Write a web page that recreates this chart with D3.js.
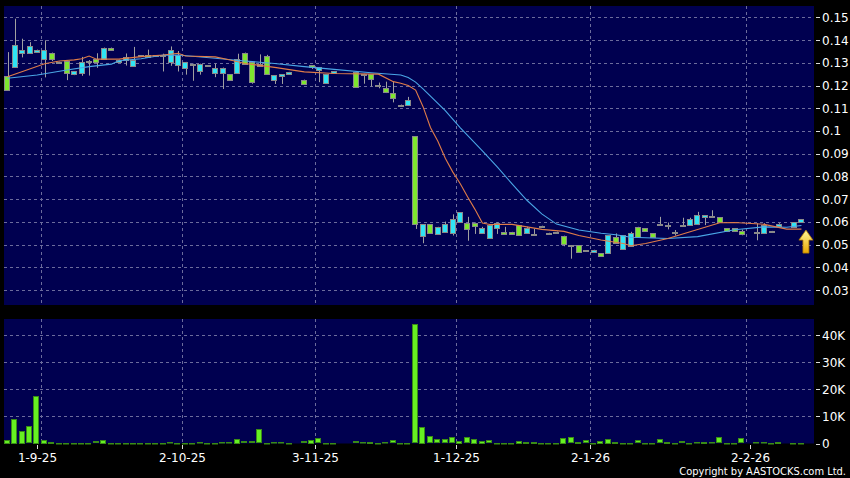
<!DOCTYPE html>
<html>
<head>
<meta charset="utf-8">
<script src="https://cdn.jsdelivr.net/npm/d3@7"></script>
<style>
  body { margin: 0; background: #000; }
  svg { display: block; }
  text { font-family: "DejaVu Sans", sans-serif; fill: #fff; }
</style>
</head>
<body>
<div id="chart"></div>
<script>
var width = 850;
var height = 478;

// daily bars, one entry per slot (null = no bar drawn)
var opens  = [0.118,0.1377,0.1358,0.1374,0.1358,0.1358,0.1318,0.1305,0.1257,0.1263,
              0.1304,0.131,0.1304,0.1367,0.1358,0.1314,0.1326,0.1314,0.1333,0.1329,
              0.1333,0.1333,0.1358,0.1333,0.1304,0.1296,0.1296,0.129,0.1279,0.1279,
              0.1224,0.1318,0.1296,0.1216,0.1296,0.125,0.1245,0.125,0.126,null,
              0.1209,0.1279,0.128,0.125,0.1264,null,null,0.1195,0.1252,0.1226,
              0.1201,0.1169,0.1147,0.1116,0.1138,0.059,0.059,0.0549,0.0578,0.059,
              0.0611,0.0642,0.0572,0.0582,0.0572,0.0586,0.0597,0.0549,0.0549,0.0542,
              0.0572,0.0545,0.0583,0.0552,0.0557,0.0502,0.0498,0.0468,0.0475,0.0477,
              0.0449,0.0542,0.0508,0.0542,0.0549,0.0535,0.056,0.0532,0.0585,0.0585,
              0.0557,0.0585,0.0611,0.0629,0.0629,0.0626,0.0598,0.056,0.056,0.0549,
              null,0.0555,0.0587,0.056,0.0591,null,0.0598,0.0611];
var highs  = [0.1347,0.1494,0.1406,0.1391,0.1358,0.1399,0.1345,0.1305,0.131,0.1263,
              0.1326,0.1312,0.1342,0.1367,0.1367,0.1314,0.1341,0.137,0.1333,0.1358,
              0.1333,0.134,0.1372,0.1352,0.1304,0.1296,0.1296,0.129,0.1296,0.1279,
              0.1249,0.134,0.1345,0.1304,0.1337,0.1335,0.1245,0.125,0.126,null,
              0.1226,0.1289,0.128,0.125,0.1264,null,null,0.126,0.1252,0.125,
              0.1213,0.1217,0.1217,0.1116,0.115,0.0977,0.059,0.059,0.0578,0.0601,
              0.0633,0.0642,0.0622,0.0597,0.0578,0.0586,0.0597,0.0578,0.0556,0.0586,
              0.0578,0.057,0.0583,0.0552,0.0557,0.0539,0.0498,0.0498,0.0475,0.0477,
              0.0461,0.0542,0.0549,0.0542,0.0556,0.0578,0.0572,0.0549,0.0622,0.0597,
              0.0564,0.0618,0.0618,0.0644,0.0629,0.0651,0.062,0.0572,0.0572,0.0566,
              null,0.0594,0.0594,0.056,0.0594,null,0.0598,0.0611];
var lows   = [0.118,0.128,0.1326,0.1345,0.1347,0.1238,0.131,0.1305,0.1226,0.1248,
              0.1245,0.1246,0.128,0.1318,0.1358,0.1304,0.129,0.1289,0.1333,0.1329,
              0.1333,0.1264,0.1289,0.1264,0.125,0.1223,0.125,0.129,0.1239,0.1187,
              0.1224,0.1255,0.1296,0.121,0.1285,0.125,0.1209,0.1209,0.125,null,
              0.1209,0.1275,0.1217,0.1209,0.1257,null,null,0.1195,0.121,0.1198,
              0.119,0.1169,0.1128,0.1116,0.1118,0.0571,0.0508,0.0549,0.0546,0.0556,
              0.0542,0.0598,0.0519,0.0549,0.0549,0.053,0.0549,0.0549,0.0549,0.0542,
              0.0549,0.0545,0.0583,0.0552,0.0557,0.0495,0.044,0.0468,0.0475,0.047,
              0.0449,0.0464,0.0508,0.0479,0.0493,0.0535,0.056,0.0532,0.0585,0.0569,
              0.0542,0.0585,0.0585,0.0588,0.0588,0.0626,0.0598,0.056,0.056,0.0543,
              null,0.0521,0.0553,0.056,0.058,null,0.0578,0.0598];
var closes = [0.124,0.128,0.1345,0.1345,0.1347,0.1318,0.1345,0.1305,0.131,0.1248,
              0.1257,0.131,0.1318,0.1318,0.1367,0.1304,0.1314,0.1289,0.1333,0.1336,
              0.1333,0.1333,0.1307,0.1289,0.1279,0.1296,0.1264,0.129,0.1257,0.1255,
              0.1249,0.1255,0.1345,0.1304,0.1285,0.1328,0.1223,0.1241,0.125,null,
              0.1226,0.1289,0.1268,0.1209,0.1257,null,null,0.126,0.1252,0.125,
              0.1201,0.1187,0.1169,0.1116,0.1118,0.0977,0.0539,0.059,0.0549,0.0556,
              0.0549,0.0598,0.0597,0.0597,0.0549,0.053,0.0574,0.0556,0.0556,0.0586,
              0.0549,0.0545,0.0583,0.0552,0.0557,0.0539,0.0498,0.0498,0.0475,0.047,
              0.0461,0.0464,0.0535,0.0479,0.0493,0.0578,0.0572,0.0549,0.0591,0.0585,
              0.0557,0.0585,0.0585,0.0588,0.0622,0.0626,0.062,0.0572,0.0572,0.0561,
              null,0.0555,0.0553,0.056,0.058,null,0.0578,0.0598];
// volume in thousands
var volumes = [1.4,9.1,4.8,6.3,17.7,1.4,0.7,0.2,0.1,0.1,
               0.3,0.3,0.9,1.4,0.1,0.1,0.2,0.2,0.1,0.1,
               0.1,0.1,0.5,0.1,0.1,0.3,0.5,0.1,0.1,0.5,
               0.4,1.7,0.8,0.8,5.2,0.1,0.5,0.5,0.1,null,
               0.8,1.3,2.0,0.2,0.2,null,null,0.8,0.5,0.7,
               0.1,0.5,1.2,0.1,0.1,44,6.1,2.6,1.5,1.5,
               2.4,1.0,2.4,1.7,1.1,1.2,0.1,0.2,0.2,1.0,
               0.6,0.7,0.1,0.1,0.1,2.1,2.3,0.7,1.2,0.2,
               1.0,1.8,0.6,0.1,0.1,1.2,0.1,0.2,1.5,0.6,
               0.1,0.8,0.3,0.5,0.7,0.4,2.3,0.1,0.2,2.0,
               null,0.4,0.4,0.1,0.7,null,0.2,0.2];

// moving averages: [bar index, value]
var ma10 = [[0,0.1239],[5,0.1296],[7,0.1308],[9,0.1313],[10,0.1318],[11,0.133],[12,0.1316],
            [15,0.1316],[18,0.1327],[21,0.1334],[23,0.1342],[24,0.133],[28,0.1326],[30,0.1312],
            [32,0.1297],[36,0.128],[40,0.126],[44,0.1253],[50,0.125],[52,0.1217],[53,0.121],
            [54,0.12],[55,0.118],[56,0.1107],[57,0.1015],[58,0.0955],[59,0.088],[60,0.082],
            [61,0.0769],[62,0.071],[63,0.0655],[64,0.0595],[65,0.0588],[68,0.0589],[72,0.0567],
            [75,0.0558],[77,0.054],[80,0.052],[83,0.0505],[84,0.0495],[86,0.0505],[89,0.0527],
            [92,0.0556],[96,0.0596],[98,0.0597],[102,0.0589],[105,0.0568],[107,0.0568]];
var ma20 = [[0,0.1232],[4,0.1246],[8,0.1268],[11,0.1283],[14,0.1294],[15,0.1309],[18,0.1318],
            [21,0.1334],[23,0.1334],[28,0.132],[32,0.1308],[36,0.1297],[40,0.1283],[44,0.1271],
            [49,0.1256],[53,0.1246],[54,0.1235],[55,0.1215],[56,0.1185],[59,0.109],[61,0.1015],
            [64,0.0912],[66,0.0842],[68,0.0767],[70,0.0695],[72,0.0635],[74,0.059],[77,0.0564],
            [80,0.055],[82,0.0543],[84,0.0532],[89,0.0527],[93,0.0535],[98,0.0565],[102,0.0578],
            [105,0.0576],[107,0.0584]];

// month gridlines sit after these bars; labels at these (fractional) bar slots
var gridIdx = [4, 23, 41, 60, 78, 99];
var labelIdx = [4, 23.5, 41.5, 60.5, 78.5, 100];
var dateLabels = ["1-9-25", "2-10-25", "3-11-25", "1-12-25", "2-1-26", "2-2-26"];
var priceTicks = [0.03,0.04,0.05,0.06,0.07,0.08,0.09,0.1,0.11,0.12,0.13,0.14,0.15];
var volTicks = [0, 10, 20, 30, 40];
var volTickLabels = ["0", "10K", "20K", "30K", "40K"];

var bars = opens.map(function (o, i) {
	return { i: i, o: o, h: highs[i], l: lows[i], c: closes[i], v: volumes[i] };
});

// panel geometry
var plotL = 4, plotR = 814;
var priceTop = 6, priceBot = 305;
var volTop = 319, volBot = 443.5;

var x = d3.scaleBand()
	.domain(d3.range(opens.length))
	.range([3.8, 3.8 + opens.length * 7.42])
	.paddingInner(0.15)
	.paddingOuter(0.075);

var y = d3.scaleLinear().domain([0.0234, 0.155]).range([priceBot, priceTop]);
var yv = d3.scaleLinear().domain([0, 46]).range([volBot, volTop]);

function cx(i) { return x(i) + x.bandwidth() / 2; }
// position of a fractional bar slot
function fx(f) { var k = Math.floor(f); return cx(k) + (f - k) * x.step(); }

var svg = d3.select("#chart").append("svg")
	.attr("width", width)
	.attr("height", height);

svg.append("rect").attr("width", width).attr("height", height).attr("fill", "#000");

svg.append("rect")
	.attr("x", plotL).attr("y", priceTop)
	.attr("width", plotR - plotL).attr("height", priceBot - priceTop)
	.attr("fill", "#000050");
svg.append("rect")
	.attr("x", plotL).attr("y", volTop)
	.attr("width", plotR - plotL).attr("height", volBot - volTop)
	.attr("fill", "#000050");

var gridColor = "#6c6c9c";

// horizontal grid + right labels (price)
var pg = svg.append("g");
pg.selectAll("line.grid").data(priceTicks).enter().append("line")
	.attr("x1", plotL).attr("x2", plotR)
	.attr("y1", d => Math.round(y(d)) + 0.5).attr("y2", d => Math.round(y(d)) + 0.5)
	.attr("stroke", gridColor).attr("stroke-dasharray", "3,3");
pg.selectAll("line.tick").data(priceTicks).enter().append("line")
	.attr("x1", 816).attr("x2", 820)
	.attr("y1", d => Math.round(y(d)) + 0.5).attr("y2", d => Math.round(y(d)) + 0.5)
	.attr("stroke", "#ddd");
pg.selectAll("text").data(priceTicks).enter().append("text")
	.attr("x", 822).attr("y", d => y(d) + 4.5)
	.style("font-size", "12px")
	.text(d => String(+d.toFixed(2)));

// volume grid + labels
var vg = svg.append("g");
vg.selectAll("line.grid").data(volTicks.slice(1)).enter().append("line")
	.attr("x1", plotL).attr("x2", plotR)
	.attr("y1", d => Math.round(yv(d)) + 0.5).attr("y2", d => Math.round(yv(d)) + 0.5)
	.attr("stroke", gridColor).attr("stroke-dasharray", "3,3");
vg.selectAll("line.tick").data(volTicks).enter().append("line")
	.attr("x1", 816).attr("x2", 820)
	.attr("y1", d => Math.round(yv(d)) + 0.5).attr("y2", d => Math.round(yv(d)) + 0.5)
	.attr("stroke", "#ddd");
vg.selectAll("text").data(volTicks).enter().append("text")
	.attr("x", 822).attr("y", d => yv(d) + 4.5)
	.style("font-size", "12px")
	.text((d, i) => volTickLabels[i]);

// vertical month grid, date ticks and labels
var dg = svg.append("g");
gridIdx.forEach(function (gi) {
	var xx = Math.round(fx(gi + 0.5)) + 0.5;
	dg.append("line").attr("x1", xx).attr("x2", xx).attr("y1", priceTop).attr("y2", priceBot)
		.attr("stroke", gridColor).attr("stroke-dasharray", "3,3");
	dg.append("line").attr("x1", xx).attr("x2", xx).attr("y1", volTop).attr("y2", volBot)
		.attr("stroke", gridColor).attr("stroke-dasharray", "3,3");
});
labelIdx.forEach(function (li, k) {
	var xx = Math.round(fx(li)) + 0.5;
	dg.append("line").attr("x1", xx).attr("x2", xx).attr("y1", 445).attr("y2", 449)
		.attr("stroke", "#ddd");
	dg.append("text").attr("x", xx).attr("y", 461.5)
		.attr("text-anchor", "middle")
		.style("font-size", "12px")
		.text(dateLabels[k]);
});

// candles
var valid = bars.filter(d => d.o != null);
var cg = svg.append("g");
cg.selectAll("line.wick").data(valid).enter().append("line")
	.attr("x1", d => Math.round(cx(d.i)) + 0.5).attr("x2", d => Math.round(cx(d.i)) + 0.5)
	.attr("y1", d => y(d.h)).attr("y2", d => y(d.l) + 0.5)
	.attr("stroke", "#a0a0a0");
cg.selectAll("rect").data(valid).enter().append("rect")
	.attr("x", d => Math.round(x(d.i)) + 0.5)
	.attr("width", Math.round(x.bandwidth()) - 1)
	.attr("y", d => Math.round(y(Math.max(d.o, d.c))) + 0.5)
	.attr("height", d => Math.max(1, Math.round(Math.abs(y(d.o) - y(d.c)))))
	.attr("fill", d => d.c > d.o ? "#7ee62e" : (d.c < d.o ? "#30e4f4" : "#7fb0c0"))
	.attr("stroke", "#8a8a8a");

// moving averages
var line = d3.line().x(d => cx(d[0])).y(d => y(d[1]));
svg.append("path").datum(ma20).attr("d", line)
	.attr("fill", "none").attr("stroke", "#4aa6e6").attr("stroke-width", 1.1);
svg.append("path").datum(ma10).attr("d", line)
	.attr("fill", "none").attr("stroke", "#e07c48").attr("stroke-width", 1.1);

// volume bars
var vbars = bars.filter(d => d.v != null);
svg.append("g").selectAll("rect").data(vbars).enter().append("rect")
	.attr("x", d => Math.round(cx(d.i) - x.step() / 2) + 0.5)
	.attr("width", Math.round(x.step()) - 2)
	.attr("y", d => Math.round(yv(d.v)) + 0.5)
	.attr("height", d => Math.max(0.5, Math.round(volBot - yv(d.v)) - 1))
	.attr("fill", "#66f022")
	.attr("stroke", "#3a8c16");

// yellow up arrow at last bar
var defs = svg.append("defs");
var grad = defs.append("linearGradient").attr("id", "arrowGrad")
	.attr("x1", 0).attr("y1", 0).attr("x2", 0).attr("y2", 1);
grad.append("stop").attr("offset", "0%").attr("stop-color", "#fff59a");
grad.append("stop").attr("offset", "100%").attr("stop-color", "#e8a800");

var ax = cx(opens.length - 1) + 4.5;
var ay = y(ma10[ma10.length - 1][1]) + 1;
svg.append("path")
	.attr("d", `M${ax},${ay} L${ax + 7},${ay + 10} L${ax + 3},${ay + 10} L${ax + 3},${ay + 23} L${ax - 3},${ay + 23} L${ax - 3},${ay + 10} L${ax - 7},${ay + 10} Z`)
	.attr("fill", "url(#arrowGrad)")
	.attr("stroke", "#b07800")
	.attr("stroke-width", 0.8);

// copyright
svg.append("text")
	.attr("x", 846).attr("y", 475)
	.attr("text-anchor", "end")
	.style("font-family", "'DejaVu Sans Condensed', 'DejaVu Sans', sans-serif")
	.style("font-size", "11px")
	.text("Copyright by AASTOCKS.com Ltd.");
</script>
</body>
</html>
